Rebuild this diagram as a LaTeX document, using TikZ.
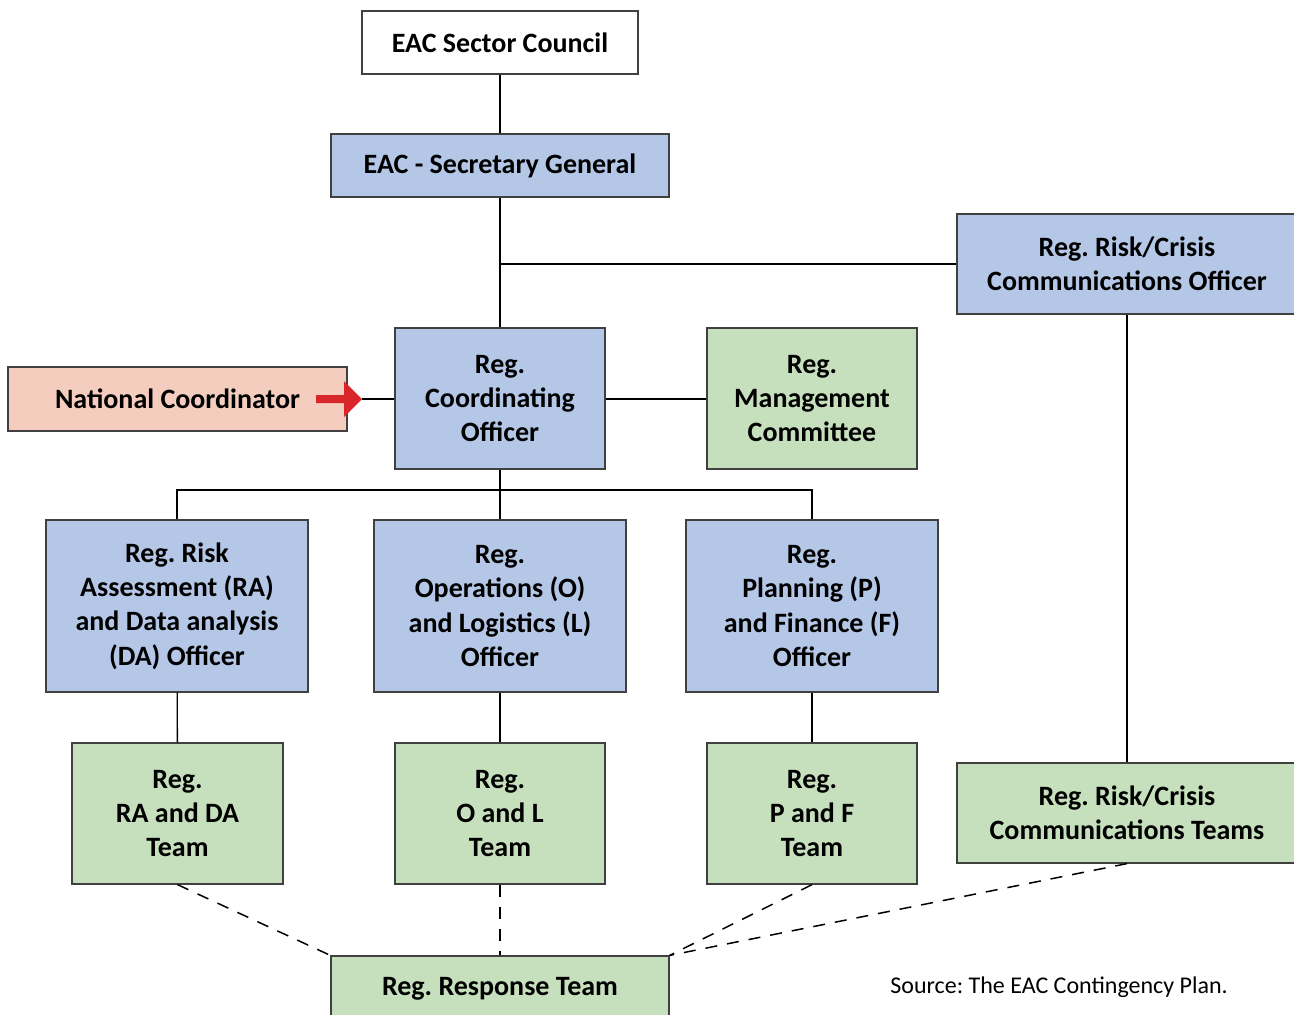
\documentclass[tikz,border=0pt]{standalone}
\usepackage{fontspec}
\setmainfont{Carlito}
\usetikzlibrary{positioning}

\definecolor{boxblue}{HTML}{B4C7E7}
\definecolor{boxgreen}{HTML}{C6DFBC}
\definecolor{boxrose}{HTML}{F4CDBF}
\definecolor{arrowred}{HTML}{D9262B}

\tikzset{
  unit/.style={draw=black!75, line width=0.6pt, align=center, inner sep=0pt,
    font=\bfseries\fontsize{14}{17.2}\selectfont},
  officer/.style={unit, fill=boxblue},
  team/.style={unit, fill=boxgreen},
  link/.style={line width=0.7pt},
  dlink/.style={line width=0.75pt, dash pattern=on 6pt off 5pt}
}

\begin{document}
\frenchspacing
\begin{tikzpicture}[x=0.5pt,y=-0.5pt]

  \useasboundingbox (0,0) rectangle (1294,1014);
  \clip (0,0) rectangle (1294,1014);

  % top of the chain
  \node[unit, fill=white, minimum width=138pt, minimum height=31.5pt] (council) at (500,42.5) {EAC Sector Council};
  \node[officer, minimum width=169pt, minimum height=31.5pt] (secgen) at (500,165.5) {EAC - Secretary General};
  \node[officer, minimum width=170pt, minimum height=50pt] (riskoff) at (1127,264) {Reg. Risk/Crisis\\Communications Officer};

  % middle row
  \node[officer, minimum width=105pt, minimum height=70.5pt] (coord) at (500,398.5) {Reg.\\Coordinating\\Officer};
  \node[unit, fill=boxrose, minimum width=169.5pt, minimum height=32pt] (natcoord) at (177.5,399) {National Coordinator};
  \node[team, minimum width=105pt, minimum height=70.5pt] (mgmt) at (812,398.5) {Reg.\\Management\\Committee};

  % officers
  \node[officer, minimum width=131pt, minimum height=86pt] (raoff) at (177,606) {Reg. Risk\\Assessment (RA)\\and Data analysis\\(DA) Officer};
  \node[officer, minimum width=126pt, minimum height=86pt] (oloff) at (500,606) {Reg.\\Operations (O)\\and Logistics (L)\\Officer};
  \node[officer, minimum width=126pt, minimum height=86pt] (pfoff) at (812,606) {Reg.\\Planning (P)\\and Finance (F)\\Officer};

  % teams
  \node[team, minimum width=105.5pt, minimum height=70.5pt] (rateam) at (177.5,813.5) {Reg.\\RA and DA\\Team};
  \node[team, minimum width=105pt, minimum height=70.5pt] (olteam) at (500,813.5) {Reg.\\O and L\\Team};
  \node[team, minimum width=105pt, minimum height=70.5pt] (pfteam) at (812,813.5) {Reg.\\P and F\\Team};
  \node[team, minimum width=170pt, minimum height=50pt] (riskteam) at (1127,813) {Reg. Risk/Crisis\\Communications Teams};
  \node[team, minimum width=169pt, minimum height=33pt] (response) at (500,989) {Reg. Response Team};

  \coordinate (split) at (500,264);
  \coordinate (bar) at (500,490);
  \coordinate (tip) at (362,399);

  \draw[link] (council) -- (secgen);
  \draw[link] (secgen) -- (coord);
  \draw[link] (split) -- (riskoff);
  \draw[link] (riskoff) -- (riskteam);
  \draw[link] (tip) -- (coord.west |- tip);
  \draw[link] (coord.east |- tip) -- (mgmt.west |- tip);
  \draw[link] (raoff.north) |- (bar) -| (pfoff.north);
  \draw[link] (coord) -- (oloff);
  \draw[link] (raoff) -- (rateam);
  \draw[link] (oloff) -- (olteam);
  \draw[link] (pfoff) -- (pfteam);

  \draw[dlink] (rateam.south) -- (response.north west);
  \draw[dlink] (olteam.south) -- (response.north);
  \draw[dlink] (pfteam.south) -- (response.north east);
  \draw[dlink] (riskteam.south) -- (response.north east);

  % red arrow into the coordinator
  \fill[arrowred] (316,395) -- (344,395) -- (344,381) -- (tip) -- (344,417) -- (344,403) -- (316,403) -- cycle;

  \node[font=\fontsize{12}{14}\selectfont, anchor=west, inner sep=0pt] (source) at (890,987) {Source: The EAC Contingency Plan.};

\end{tikzpicture}
\end{document}
